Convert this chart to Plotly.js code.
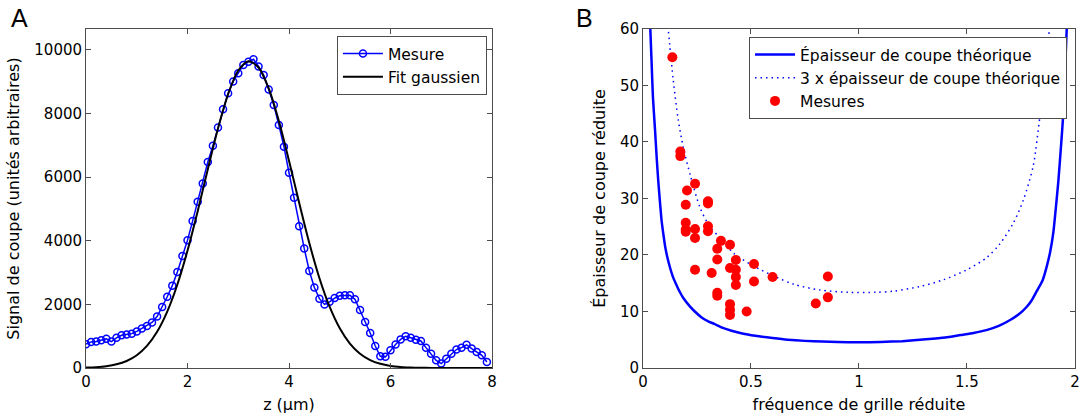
<!DOCTYPE html>
<html>
<head>
<meta charset="utf-8">
<script src="https://cdn.plot.ly/plotly-3.0.1.min.js"></script>
<style>html,body{margin:0;padding:0;background:#fff}#chart{width:1081px;height:416px}</style>
</head>
<body>
<div id="chart"></div>
<script>
// ---- Panel A data ----
const zMesure = [0,0.1,0.2,0.3,0.4,0.5,0.6,0.7,0.8,0.9,1.0,1.1,1.2,1.3,1.4,1.5,1.6,1.7,1.8,1.9,
  2.0,2.1,2.2,2.3,2.4,2.5,2.6,2.7,2.8,2.9,3.0,3.1,3.2,3.3,3.4,3.5,3.6,3.7,3.8,3.9,
  4.0,4.1,4.2,4.3,4.4,4.5,4.6,4.7,4.8,4.9,5.0,5.1,5.2,5.3,5.4,5.5,5.6,5.7,5.8,5.9,
  6.0,6.1,6.2,6.3,6.4,6.5,6.6,6.7,6.8,6.9,7.0,7.1,7.2,7.3,7.4,7.5,7.6,7.7,7.8,7.9];
const signalMesure = [750,820,830,870,920,830,950,1030,1050,1080,1150,1240,1320,1430,1620,1920,2240,2590,3020,3520,
  4020,4620,5230,5800,6480,6990,7560,8140,8640,9010,9270,9530,9630,9710,9480,9210,8760,8270,7640,6960,
  6140,5350,4460,3760,3050,2530,2180,2000,2080,2200,2270,2290,2290,2160,1820,1450,1100,690,370,350,
  560,740,900,1000,950,890,850,640,450,240,140,290,450,580,640,730,610,500,400,190];
const zFit = [0,0.2,0.4,0.6,0.8,1.0,1.2,1.4,1.6,1.8,2.0,2.2,2.4,2.6,2.8,3.0,3.2,3.4,3.6,3.8,
  4.0,4.2,4.4,4.6,4.8,5.0,5.2,5.4,5.6,5.8,6.0,6.2,6.4,6.6,6.8,7.0,7.2,7.4,7.6,7.8,8.0];
const signalFit = [12,27,57,115,221,402,694,1138,1774,2627,3694,4932,6253,7530,8612,9354,9647,9450,8792,7768,
  6518,5194,3930,2824,1928,1250,769,450,250,132,66,31,14,6,3,1,0,0,0,0,0];
const ticksA_x = [0,2,4,6,8];
const ticksA_y = [0,2000,4000,6000,8000,10000];

// ---- Panel B data ----
const freqTheo = [0.034,0.04,0.046,0.056,0.063,0.07,0.085,0.095,0.105,0.12,0.14,0.155,0.17,0.19,0.215,0.24,
  0.27,0.30,0.33,0.37,0.41,0.46,0.52,0.6,0.67,0.75,0.83,0.9,1.0,1.1,1.2,1.31,1.4,1.47,1.53,1.59,
  1.65,1.70,1.74,1.776,1.80,1.823,1.85,1.869,1.885,1.9,1.912,1.923,1.935,1.946,1.962];
const epTheo = [60,54,48,42,37.5,33.5,26.5,23.5,21,18.5,16.0,14.7,13.5,12.2,11,10.0,
  9.0,8.3,7.8,7.1,6.6,6.1,5.7,5.3,5.0,4.8,4.7,4.6,4.55,4.6,4.75,5.07,5.4,5.84,6.2,6.7,
  7.5,8.5,9.5,10.8,12,13.6,15.5,17.9,20.5,24,28.5,33,39,45,60];
const freqTheo3 = [0.118,0.14,0.163,0.187,0.22,0.265,0.31,0.358,0.42,0.51,0.61,0.70,0.82,0.95,1.08,1.16,
  1.28,1.39,1.50,1.59,1.653,1.714,1.761,1.807,1.838,1.861,1.88];
const epTheo3 = [59.5,51,44,39,34,28.3,25,23,20.3,18.1,16.2,14.8,13.8,13.4,13.4,13.6,
  14.4,15.6,17.4,19.5,22,25.6,29.7,35.8,44.5,50,59.5];
const freqMes = [0.136,0.173,0.173,0.204,0.241,0.198,0.301,0.301,0.198,0.198,0.198,0.241,0.241,0.301,0.301,
  0.361,0.344,0.403,0.344,0.43,0.241,0.318,0.403,0.43,0.43,0.43,0.514,0.514,0.6,0.344,0.344,
  0.403,0.403,0.403,0.48,0.80,0.856,0.856];
const epMes = [55.0,38.3,37.5,31.4,32.6,28.9,29.5,29.1,25.7,24.5,24.1,24.6,23.0,25.1,24.2,
  22.5,21.1,21.8,19.2,19.1,17.4,16.8,17.7,17.4,16.1,14.7,18.4,15.3,16.1,13.3,12.8,
  11.3,10.3,9.4,10.0,11.4,16.2,12.5];
const ticksB_x = [0,0.5,1,1.5,2];
const ticksB_y = [0,10,20,30,40,50,60];

const FONT = 'DejaVu Sans, Verdana, sans-serif';
const traces = [
  {x: zMesure, y: signalMesure, name: 'Mesure', mode: 'lines+markers', xaxis: 'x', yaxis: 'y',
   line: {color: '#0000ff', width: 1.5},
   marker: {symbol: 'circle-open', size: 7, color: '#0000ff', line: {width: 1.5, color: '#0000ff'}},
   legend: 'legend'},
  {x: zFit, y: signalFit, name: 'Fit gaussien', mode: 'lines', xaxis: 'x', yaxis: 'y',
   line: {color: '#000000', width: 2, shape: 'spline', smoothing: 0.8}, legend: 'legend'},
  {x: freqTheo, y: epTheo, name: 'Épaisseur de coupe théorique', mode: 'lines', xaxis: 'x2', yaxis: 'y2',
   line: {color: '#0000ff', width: 2.5, shape: 'spline', smoothing: 0.5}, legend: 'legend2'},
  {x: freqTheo3, y: epTheo3, name: '3 x épaisseur de coupe théorique', mode: 'lines', xaxis: 'x2', yaxis: 'y2',
   line: {color: '#0000ff', width: 1.5, dash: '1.5px,4px', shape: 'spline', smoothing: 0.8}, legend: 'legend2'},
  {x: freqMes, y: epMes, name: 'Mesures', mode: 'markers', xaxis: 'x2', yaxis: 'y2',
   marker: {symbol: 'circle', size: 10, color: '#ff0000'}, legend: 'legend2'}
];

const axCommon = {
  showline: true, linecolor: '#4d4d4d', linewidth: 1, mirror: 'ticks', ticks: 'inside', ticklen: 5,
  tickcolor: '#4d4d4d', showgrid: false, zeroline: false, tickfont: {family: FONT, size: 15, color: '#000'},
  fixedrange: true
};
const titleFont = {family: FONT, size: 16, color: '#000'};

const layout = {
  width: 1081, height: 416,
  margin: {l: 0, r: 0, t: 0, b: 0},
  paper_bgcolor: '#fff', plot_bgcolor: '#fff',
  font: {family: FONT, size: 16, color: '#000'},
  xaxis: Object.assign({}, axCommon, {domain: [0.0796, 0.4551], range: [0, 8], tickvals: ticksA_x, anchor: 'y',
    title: {text: 'z (µm)', font: titleFont, standoff: 8}}),
  yaxis: Object.assign({}, axCommon, {domain: [0.1154, 0.9303], range: [0, 10660], tickvals: ticksA_y,
    tickformat: 'd', anchor: 'x',
    title: {text: 'Signal de coupe (unités arbitraires)', font: titleFont, standoff: 10}}),
  xaxis2: Object.assign({}, axCommon, {domain: [0.5948, 0.9944], range: [0, 2], tickvals: ticksB_x, anchor: 'y2',
    title: {text: 'fréquence de grille réduite', font: titleFont, standoff: 8}}),
  yaxis2: Object.assign({}, axCommon, {domain: [0.1154, 0.9303], range: [0, 60], tickvals: ticksB_y, anchor: 'x2',
    title: {text: 'Épaisseur de coupe réduite', font: titleFont, standoff: 10}}),
  legend: {x: 0.3117, y: 0.9135, xanchor: 'left', yanchor: 'top', bgcolor: '#fff', bordercolor: '#4d4d4d',
    borderwidth: 1, font: {family: FONT, size: 15.5, color: '#000'}, itemwidth: 40},
  legend2: {x: 0.6929, y: 0.911, xanchor: 'left', yanchor: 'top', bgcolor: '#fff', bordercolor: '#4d4d4d',
    borderwidth: 1, font: {family: FONT, size: 15.5, color: '#000'}, itemwidth: 40},
  showlegend: true,
  annotations: [
    {text: 'A', xref: 'paper', yref: 'paper', x: 0.008, y: 0.995, xanchor: 'left', yanchor: 'top', showarrow: false,
     font: {family: 'Liberation Sans, Arial, sans-serif', size: 25, color: '#000'}},
    {text: 'B', xref: 'paper', yref: 'paper', x: 0.531, y: 0.995, xanchor: 'left', yanchor: 'top', showarrow: false,
     font: {family: 'Liberation Sans, Arial, sans-serif', size: 25, color: '#000'}}
  ]
};

Plotly.newPlot('chart', traces, layout, {displayModeBar: false, staticPlot: true});
</script>
</body>
</html>
